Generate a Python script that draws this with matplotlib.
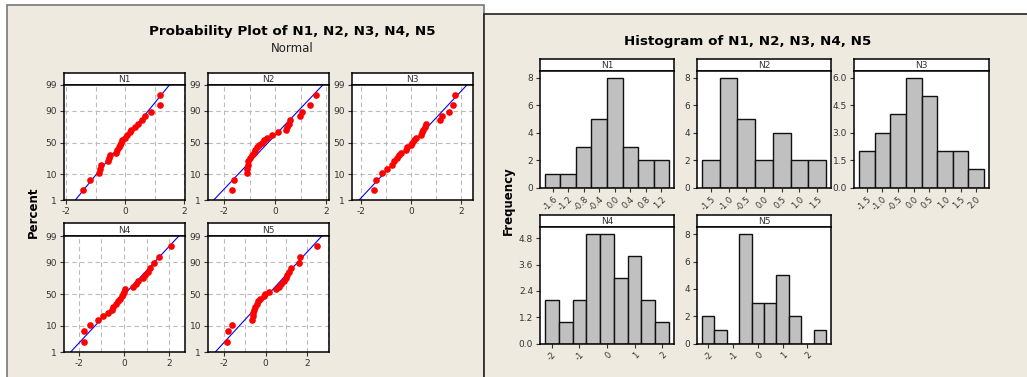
import numpy as np
import matplotlib
matplotlib.use("Agg")
import matplotlib.pyplot as plt
from matplotlib.patches import Rectangle
from statistics import NormalDist

# sorted samples, 25 observations in each column
names = ["N1", "N2", "N3", "N4", "N5"]
n1 = [-1.42, -1.20, -0.88, -0.84, -0.81, -0.58, -0.55, -0.50, -0.31, -0.27,
      -0.19, -0.16, -0.14, -0.12, -0.01, 0.05, 0.18, 0.19, 0.32, 0.43,
      0.58, 0.67, 0.89, 1.18, 1.18]
n2 = [-1.67, -1.59, -1.10, -1.09, -1.07, -1.05, -0.98, -0.90, -0.83, -0.78,
      -0.70, -0.62, -0.52, -0.45, -0.30, -0.12, 0.10, 0.42, 0.47, 0.53,
      0.57, 0.96, 1.05, 1.34, 1.60]
n3 = [-1.48, -1.40, -1.15, -0.97, -0.77, -0.68, -0.57, -0.48, -0.39, -0.22,
      -0.18, 0.00, 0.03, 0.10, 0.20, 0.39, 0.45, 0.49, 0.55, 0.60,
      1.16, 1.22, 1.52, 1.69, 1.76]
n4 = [-1.78, -1.76, -1.50, -1.13, -0.91, -0.69, -0.54, -0.50, -0.35, -0.27,
      -0.18, -0.10, -0.03, 0.02, 0.06, 0.41, 0.53, 0.63, 0.85, 0.95,
      1.08, 1.15, 1.32, 1.54, 2.07]
n5 = [-1.89, -1.84, -1.64, -0.68, -0.64, -0.60, -0.55, -0.50, -0.44, -0.36,
      -0.28, -0.10, -0.02, 0.15, 0.50, 0.64, 0.72, 0.88, 0.97, 1.05,
      1.13, 1.22, 1.61, 1.66, 2.48]
series = [n1, n2, n3, n4, n5]

# histogram bins (midpoints of first/last bar and bar width)
bin_first = [-1.6, -1.5, -1.5, -2.0, -2.0]
bin_last = [1.2, 1.5, 2.0, 2.0, 2.5]
bin_width = [0.4, 0.5, 0.5, 0.5, 0.5]

hist_xticks = [
    [-1.6, -1.2, -0.8, -0.4, 0.0, 0.4, 0.8, 1.2],
    [-1.5, -1.0, -0.5, 0.0, 0.5, 1.0, 1.5],
    [-1.5, -1.0, -0.5, 0.0, 0.5, 1.0, 1.5, 2.0],
    [-2, -1, 0, 1, 2],
    [-2, -1, 0, 1, 2],
]
hist_xlabels = [
    ["-1.6", "-1.2", "-0.8", "-0.4", "0.0", "0.4", "0.8", "1.2"],
    ["-1.5", "-1.0", "-0.5", "0.0", "0.5", "1.0", "1.5"],
    ["-1.5", "-1.0", "-0.5", "0.0", "0.5", "1.0", "1.5", "2.0"],
    ["-2", "-1", "0", "1", "2"],
    ["-2", "-1", "0", "1", "2"],
]
hist_yticks = [
    [0, 2, 4, 6, 8],
    [0, 2, 4, 6, 8],
    [0.0, 1.5, 3.0, 4.5, 6.0],
    [0.0, 1.2, 2.4, 3.6, 4.8],
    [0, 2, 4, 6, 8],
]
hist_ylabels = [
    ["0", "2", "4", "6", "8"],
    ["0", "2", "4", "6", "8"],
    ["0.0", "1.5", "3.0", "4.5", "6.0"],
    ["0.0", "1.2", "2.4", "3.6", "4.8"],
    ["0", "2", "4", "6", "8"],
]
hist_ytop = [8.5, 8.5, 6.375, 5.3, 8.5]

pct_ticks = [1, 10, 50, 90, 99]
prob_xlim = [(-2.07, 2.03), (-2.62, 2.1), (-2.36, 2.47), (-2.64, 2.69), (-2.80, 3.07)]

W, H = 1027, 377
BEIGE = "#EEEAE0"
TXT = "#333333"

fig = plt.figure(figsize=(W / 100, H / 100), dpi=100)
fig.patch.set_facecolor("white")
plt.rcParams["font.family"] = ["DejaVu Sans"]


def px_axes(x0, y0, x1, y1):
    return fig.add_axes([x0 / W, 1 - y1 / H, (x1 - x0) / W, (y1 - y0) / H])


def panel(x0, y0, x1, y1, edge):
    fig.add_artist(Rectangle((x0 / W, 1 - y1 / H), (x1 - x0) / W, (y1 - y0) / H,
                             transform=fig.transFigure, facecolor=BEIGE,
                             edgecolor=edge, linewidth=1.2, zorder=-5))


def header(x0, y0, x1, y1, label):
    hx = px_axes(x0, y0, x1, y1)
    hx.set_xticks([])
    hx.set_yticks([])
    hx.set_facecolor("white")
    for s in hx.spines.values():
        s.set_linewidth(1.1)
    hx.text(0.5, 0.45, label, ha="center", va="center", fontsize=6.5,
            color=TXT, transform=hx.transAxes)


def style(ax):
    for s in ax.spines.values():
        s.set_linewidth(1.1)
    ax.tick_params(direction="out", length=3, width=0.8, labelsize=6.5,
                   colors=TXT, pad=2)


# background panels
panel(7, 5, 484, 380, "#777777")
panel(484, 14, 1030, 380, "#222222")

fig.text(292 / W, 1 - 32 / H, "Probability Plot of N1, N2, N3, N4, N5",
         ha="center", va="center", fontsize=9.7, fontweight="bold")
fig.text(292 / W, 1 - 49 / H, "Normal", ha="center", va="center", fontsize=8.5,
         color="#222222")
fig.text(33 / W, 1 - 212 / H, "Percent", ha="center", va="center", rotation=90,
         fontsize=8.5, fontweight="bold")

fig.text(748 / W, 1 - 41 / H, "Histogram of N1, N2, N3, N4, N5",
         ha="center", va="center", fontsize=9.7, fontweight="bold")
fig.text(508 / W, 1 - 201 / H, "Frequency", ha="center", va="center", rotation=90,
         fontsize=8.5, fontweight="bold")

# probability plots
nd = NormalDist()
prob_boxes = [(64, 73, 185, 85, 200), (208, 73, 329, 85, 200), (352, 73, 473, 85, 200),
              (64, 223, 185, 236, 352), (208, 223, 329, 236, 352)]
zlo, zhi = nd.inv_cdf(0.01), nd.inv_cdf(0.99)
for k, (x0, yh, x1, yp, yb) in enumerate(prob_boxes):
    data = np.sort(np.array(series[k]))
    n = len(data)
    ranks = np.arange(1, n + 1)
    z = np.array([nd.inv_cdf((i - 0.3) / (n + 0.4)) for i in ranks])
    mu, sd = data.mean(), data.std(ddof=1)

    header(x0, yh, x1, yp, names[k])
    ax = px_axes(x0, yp, x1, yb)
    style(ax)
    ax.set_facecolor("white")
    ax.set_xlim(*prob_xlim[k])
    ax.set_ylim(zlo, zhi)
    for gx in range(-3, 4):
        ax.axvline(gx, color="#BBBBBB", lw=0.8, ls=(0, (4, 3)), zorder=0)
    for p in [10, 50, 90]:
        ax.axhline(nd.inv_cdf(p / 100), color="#BBBBBB", lw=0.8, ls=(0, (4, 3)), zorder=0)
    zz = np.linspace(-3, 3, 50)
    ax.plot(mu + sd * zz, zz, color="#0000FF", lw=0.8, zorder=2)
    ax.plot(data, z, "o", color="#FF0000", ms=4.8, mec="none", zorder=3)
    ax.set_xticks([-2, 0, 2])
    ax.set_xticklabels(["-2", "0", "2"])
    ax.set_yticks([nd.inv_cdf(p / 100) for p in pct_ticks])
    ax.set_yticklabels([str(p) for p in pct_ticks])

# histograms
hist_boxes = [(540, 58.7, 674, 71, 187.7), (697, 58.7, 831, 71, 187.7),
              (854, 58.7, 989, 71, 187.7),
              (540, 214.7, 674, 227.3, 343.7), (697, 214.7, 831, 227.3, 343.7)]
for k, (x0, yh, x1, yp, yb) in enumerate(hist_boxes):
    w = bin_width[k]
    edges = np.arange(bin_first[k] - w / 2, bin_last[k] + w, w)
    counts, edges = np.histogram(series[k], bins=edges)
    mids = (edges[:-1] + edges[1:]) / 2
    pad = 0.04 * (edges[-1] - edges[0])

    header(x0, yh, x1, yp, names[k])
    ax = px_axes(x0, yp, x1, yb)
    style(ax)
    ax.set_facecolor("white")
    ax.bar(mids, counts, width=w, color="#C0C0C0", edgecolor="#111111", lw=1.0)
    ax.set_xlim(edges[0] - pad, edges[-1] + pad)
    ax.set_ylim(0, hist_ytop[k])
    ax.set_xticks(hist_xticks[k])
    ax.set_xticklabels(hist_xlabels[k], rotation=45, ha="right", va="top",
                       rotation_mode="anchor", fontsize=6)
    ax.set_yticks(hist_yticks[k])
    ax.set_yticklabels(hist_ylabels[k])

fig.savefig("out.png", dpi=100, facecolor=fig.get_facecolor())
